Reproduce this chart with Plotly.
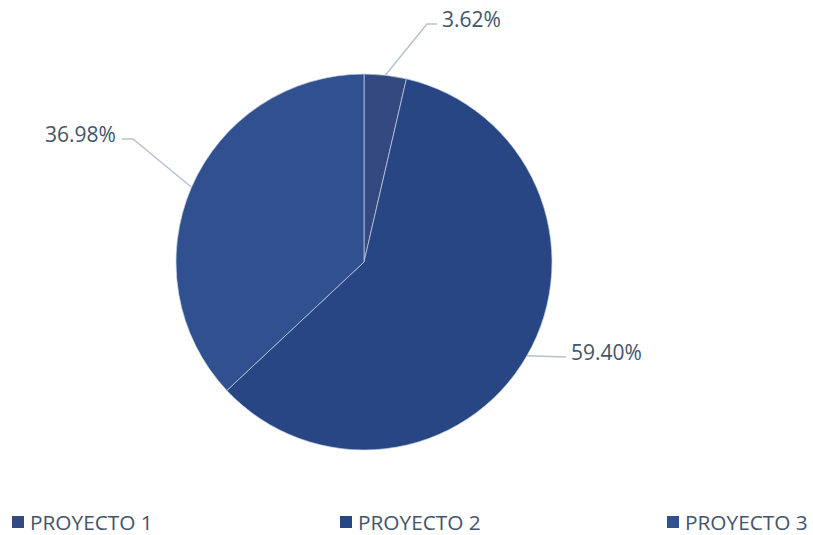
import math
import plotly.graph_objects as go

W, H = 813, 535

labels = ["PROYECTO 1", "PROYECTO 2", "PROYECTO 3"]
values = [3.62, 59.40, 36.98]
colors = ["#34497f", "#284683", "#30508f"]

# pie geometry in pixels
cx, cy, R = 364, 262, 188

def px(x):
    return x / W

def py(y):
    return 1 - y / H

fig = go.Figure()
fig.add_trace(go.Pie(
    labels=labels, values=values, sort=False, direction="clockwise", rotation=0,
    marker=dict(colors=colors, line=dict(color="rgba(200,210,230,0.7)", width=1)),
    textinfo="none", hoverinfo="label+percent",
    domain=dict(x=[px(cx - R), px(cx + R)], y=[py(cy + R), py(cy - R)]),
))

# leader-line elbow offsets (pixel styling) and text side for each slice
elbows = [(427, 24, 437, "left"), (566, 357, 566, "left"), (133, 139, 122, "right")]

total = sum(values)
cum = 0
shapes = []
annotations = []
for v, (ex, ey, hx, side) in zip(values, elbows):
    mid = (cum + v / 2) / total * 2 * math.pi
    cum += v
    sx = cx + R * math.sin(mid)
    sy = cy - R * math.cos(mid)
    path = f"M {px(sx)} {py(sy)} L {px(ex)} {py(ey)} L {px(hx)} {py(ey)}"
    shapes.append(dict(type="path", xref="paper", yref="paper", path=path,
                       line=dict(color="#b7c2d1", width=1.5)))
    tx = hx + 3 if side == "left" else hx - 4
    annotations.append(dict(
        x=px(tx), y=py(ey - 5), xref="paper", yref="paper",
        text=f"{v:.2f}%", showarrow=False,
        xanchor="left" if side == "left" else "right", yanchor="middle",
        font=dict(family="Open Sans", size=21, color="#44546a"),
    ))

# bottom legend (manual, spread across width)
legend_x = [12, 340, 667]
legend_y = 522
for lab, col, lx in zip(labels, colors, legend_x):
    shapes.append(dict(type="rect", xref="paper", yref="paper",
                       x0=px(lx), x1=px(lx + 12), y0=py(legend_y + 6), y1=py(legend_y - 6),
                       fillcolor=col, line=dict(width=0)))
    annotations.append(dict(
        x=px(lx + 16), y=py(legend_y), xref="paper", yref="paper",
        text=lab, showarrow=False, xanchor="left", yanchor="middle",
        font=dict(family="Open Sans", size=20.8, color="#44546a"),
    ))

fig.update_layout(
    width=W, height=H, margin=dict(l=0, r=0, t=0, b=0),
    paper_bgcolor="white", plot_bgcolor="white",
    shapes=shapes, annotations=annotations,
    showlegend=False,
)

fig.write_html("out.html", config={"displayModeBar": False},
               post_script="document.body.style.margin='0';document.body.style.overflow='hidden';")
